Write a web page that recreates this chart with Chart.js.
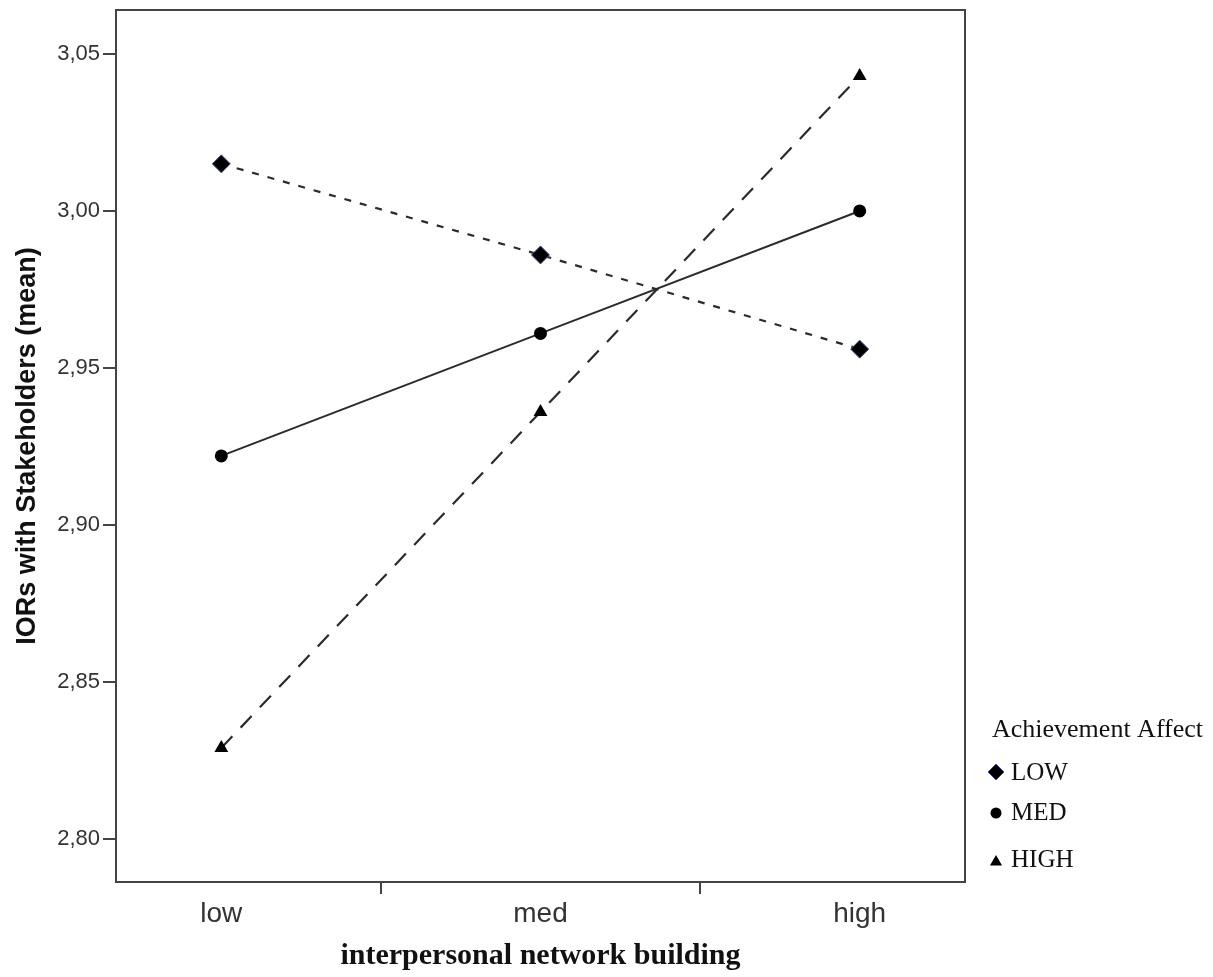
<!DOCTYPE html>
<html>
<head>
<meta charset="utf-8">
<script src="https://cdn.jsdelivr.net/npm/chart.js@4/dist/chart.umd.min.js"></script>
<style>
  html, body { margin: 0; padding: 0; background: #fff; }
  canvas { display: block; }
</style>
</head>
<body>
<canvas id="plot" width="1213" height="977"></canvas>
<script>
// --- Data ---
const categories = ['low', 'med', 'high'];
const seriesNames = ['LOW', 'MED', 'HIGH'];
const lowValues = [3.015, 2.986, 2.956];
const medValues = [2.922, 2.961, 3.000];
const highValues = [2.829, 2.936, 3.043];
const yTickValues = [2.80, 2.85, 2.90, 2.95, 3.00, 3.05];
const xTickValues = [1, 1.5, 2, 2.5, 3];

const LINE = '#2b2b2b';
const toPoints = vals => vals.map((v, i) => ({ x: i + 1, y: v }));

// draws the box round the plot and the legend on the right
const framePlugin = {
    id: 'frame',
    afterDraw(chart) {
        const { ctx, chartArea: a } = chart;
        ctx.save();
        ctx.strokeStyle = '#444';
        ctx.lineWidth = 2;
        ctx.strokeRect(a.left, a.top, a.right - a.left, a.bottom - a.top);

        ctx.fillStyle = '#111';
        ctx.textBaseline = 'alphabetic';
        ctx.font = '26px "Liberation Serif", "Times New Roman", serif';
        ctx.fillText('Achievement Affect', 992, 737);

        const rows = [780, 820, 867];
        const marks = [772, 813, 862];
        ctx.font = '25px "Liberation Serif", "Times New Roman", serif';
        chart.data.datasets.forEach((ds, i) => {
            ctx.fillStyle = ds.pointBackgroundColor;
            ctx.strokeStyle = ds.pointBorderColor;
            ctx.lineWidth = ds.pointBorderWidth;
            ctx.setLineDash([]);
            Chart.helpers.drawPoint(ctx, {
                pointStyle: ds.pointStyle,
                radius: ds.legendRadius,
                rotation: 0,
                borderWidth: ds.pointBorderWidth
            }, 996, marks[i]);
            ctx.fillStyle = '#111';
            ctx.fillText(ds.label, 1011, rows[i]);
        });
        ctx.restore();
    }
};

function initChart() {
    const ctx = document.getElementById('plot').getContext('2d');
    new Chart(ctx, {
        type: 'line',
        data: {
            datasets: [
                {
                    label: seriesNames[0],
                    data: toPoints(lowValues),
                    borderColor: LINE,
                    borderWidth: 2.2,
                    borderDash: [7, 9],
                    pointStyle: 'rectRot',
                    pointRadius: 9,
                    legendRadius: 8,
                    pointBackgroundColor: '#000',
                    pointBorderColor: '#3a4aa0',
                    pointBorderWidth: 1
                },
                {
                    label: seriesNames[1],
                    data: toPoints(medValues),
                    borderColor: LINE,
                    borderWidth: 2,
                    pointStyle: 'circle',
                    pointRadius: 6.5,
                    legendRadius: 5.5,
                    pointBackgroundColor: '#000',
                    pointBorderColor: '#000',
                    pointBorderWidth: 0
                },
                {
                    label: seriesNames[2],
                    data: toPoints(highValues),
                    borderColor: LINE,
                    borderWidth: 2.2,
                    borderDash: [16, 12],
                    pointStyle: 'triangle',
                    pointRadius: 8,
                    legendRadius: 7,
                    pointBackgroundColor: '#000',
                    pointBorderColor: '#000',
                    pointBorderWidth: 0
                }
            ]
        },
        options: {
            responsive: false,
            animation: false,
            layout: { padding: { top: 9, right: 248, left: 0, bottom: 0 } },
            plugins: { legend: { display: false }, tooltip: { enabled: false } },
            elements: { line: { tension: 0 } },
            scales: {
                x: {
                    type: 'linear',
                    min: 0.67,
                    max: 3.33,
                    afterBuildTicks: s => { s.ticks = xTickValues.map(v => ({ value: v })); },
                    afterFit: s => { s.height = 95; s.paddingLeft = 0; s.paddingRight = 0; },
                    border: { display: false },
                    grid: {
                        drawOnChartArea: false,
                        drawTicks: true,
                        tickLength: 12,
                        lineWidth: 2,
                        tickColor: c => (Number.isInteger(c.tick.value) ? 'rgba(0,0,0,0)' : '#444')
                    },
                    ticks: {
                        autoSkip: false,
                        maxRotation: 0,
                        padding: 3,
                        color: '#333',
                        font: { family: 'Arial, "Liberation Sans", sans-serif', size: 28 },
                        callback: v => (Number.isInteger(v) ? categories[v - 1] : '')
                    },
                    title: {
                        display: true,
                        text: 'interpersonal network building',
                        color: '#111',
                        padding: { top: 0, bottom: 3 },
                        font: { family: '"Liberation Serif", "Times New Roman", serif', size: 30, weight: 'bold' }
                    }
                },
                y: {
                    min: 2.7863,
                    max: 3.064,
                    afterBuildTicks: s => { s.ticks = yTickValues.map(v => ({ value: v })); },
                    afterFit: s => { s.width = 116; s.paddingTop = 0; s.paddingBottom = 0; },
                    border: { display: false },
                    grid: {
                        drawOnChartArea: false,
                        drawTicks: true,
                        tickLength: 13,
                        lineWidth: 2,
                        tickColor: '#444'
                    },
                    ticks: {
                        padding: 3,
                        color: '#333',
                        font: { family: 'Arial, "Liberation Sans", sans-serif', size: 22 },
                        callback: v => v.toFixed(2).replace('.', ',')
                    },
                    title: {
                        display: true,
                        text: 'IORs with Stakeholders (mean)',
                        color: '#111',
                        padding: { top: 11, bottom: 0 },
                        font: { family: 'Arial, "Liberation Sans", sans-serif', size: 27, weight: 'bold' }
                    }
                }
            }
        },
        plugins: [framePlugin]
    });
}

document.addEventListener('DOMContentLoaded', () => {
    try {
        initChart();
    } catch (e) {
        console.error('Chart init failed:', e);
    }
});
</script>
</body>
</html>
